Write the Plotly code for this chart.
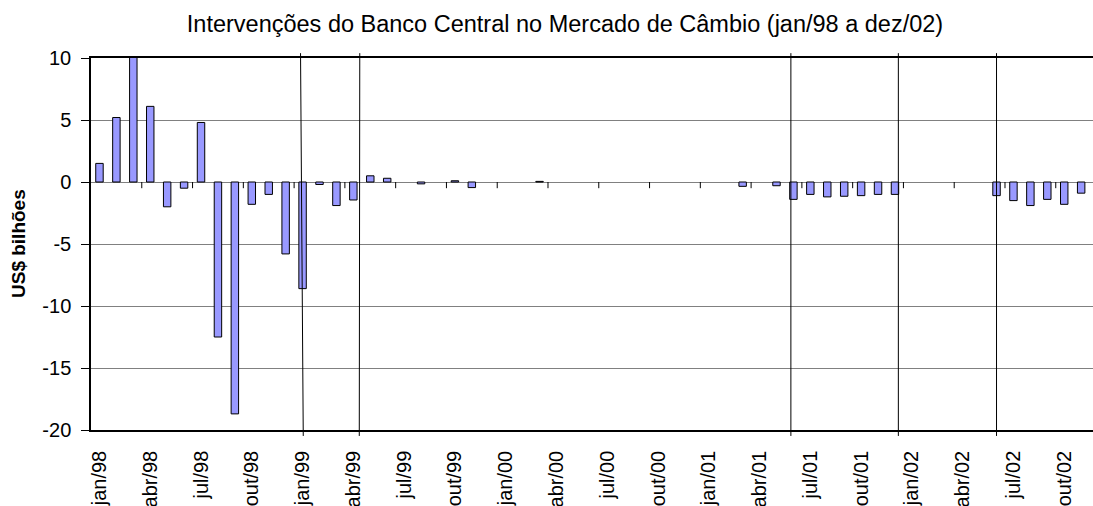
import plotly.graph_objects as go

# ---- data ----
month_abbr = ["jan", "fev", "mar", "abr", "mai", "jun", "jul", "ago", "set", "out", "nov", "dez"]
years = ["98", "99", "00", "01", "02"]
months = [f"{m}/{y}" for y in years for m in month_abbr]

# US$ bilhões, monthly net interventions (None = no intervention)
values = [
    1.5, 5.2, 10.2, 6.1, -2.0, -0.5, 4.8, -12.5, -18.7, -1.8, -1.0, -5.8,      # 1998
    -8.6, -0.2, -1.9, -1.45, 0.5, 0.3, None, -0.15, None, 0.1, -0.45, None,   # 1999
    None, None, 0.05, None, None, None, None, None, None, None, None, None,   # 2000
    None, None, -0.35, None, -0.3, -1.4, -1.0, -1.2, -1.15, -1.1, -1.0, -1.0, # 2001
    None, None, None, None, None, -1.1, -1.5, -1.9, -1.4, -1.8, -0.9, None,   # 2002
]

tick_labels = months[::3]
y_ticks = [10, 5, 0, -5, -10, -15, -20]
y_tick_text = ["10", "5", "0", "-5", "-10", "-15", "-20"]

# vertical event lines (category index positions, top / bottom)
event_lines_top = [11.88, 15.38, 40.85, 47.2, 53.0]
event_lines_bottom = [12.04, 15.35, 40.85, 47.2, 53.0]

FONT = "Arial, Liberation Sans, sans-serif"

fig = go.Figure()
fig.add_trace(go.Bar(
    x=months, y=values,
    width=0.44,
    marker=dict(color="#9999FF", line=dict(color="black", width=1)),
    showlegend=False,
))

shapes = []
for xt, xb in zip(event_lines_top, event_lines_bottom):
    shapes.append(dict(type="line", xref="x", yref="paper",
                       x0=xb, x1=xt, y0=-0.016, y1=1.013,
                       line=dict(color="black", width=1)))
# category-axis tick marks on the zero line (every 3 months)
k = 2.5
while k < 59:
    shapes.append(dict(type="line", xref="x", yref="y",
                       x0=k, x1=k, y0=0, y1=-0.5,
                       line=dict(color="black", width=1)))
    k += 3

fig.update_layout(
    width=1093, height=506, autosize=False,
    margin=dict(l=91, r=0, t=58, b=76, autoexpand=False),
    paper_bgcolor="white", plot_bgcolor="white",
    font=dict(family=FONT, color="black"),
    title=dict(
        text="Intervenções do Banco Central no Mercado de Câmbio (jan/98 a dez/02)",
        font=dict(family=FONT, size=23.5, color="black"),
        x=565 / 1093, xanchor="center", xref="container",
        y=1 - 24 / 506, yanchor="middle", yref="container",
    ),
    xaxis=dict(
        type="category", automargin=False,
        range=[-0.5, 58.7],
        tickmode="array", tickvals=tick_labels, ticktext=tick_labels,
        tickangle=-90, ticks="", ticklabelstandoff=11,
        tickfont=dict(family=FONT, size=20, color="black"),
        showgrid=False, showline=True, mirror=True,
        linecolor="black", linewidth=1.5,
    ),
    yaxis=dict(
        automargin=False,
        range=[-20, 10], tickmode="array", tickvals=y_ticks, ticktext=y_tick_text,
        ticks="outside", ticklen=8, tickcolor="black", tickwidth=1,
        ticklabelstandoff=6,
        tickfont=dict(family=FONT, size=20, color="black"),
        showgrid=True, gridcolor="#808080", gridwidth=1,
        zeroline=True, zerolinecolor="#808080", zerolinewidth=1,
        showline=True, linecolor="black", linewidth=1.5,
    ),
    shapes=shapes,
    annotations=[dict(
        text="<b>US$ bilhões</b>", textangle=-90,
        xref="paper", yref="paper", x=(18 - 91) / 1002, y=0.5,
        xanchor="center", yanchor="middle", showarrow=False,
        font=dict(family=FONT, size=19, color="black"),
    )],
)

fig.write_html(
    "out.html",
    config={"displayModeBar": False},
    post_script="document.body.style.margin='0';document.body.style.padding='0';",
)
